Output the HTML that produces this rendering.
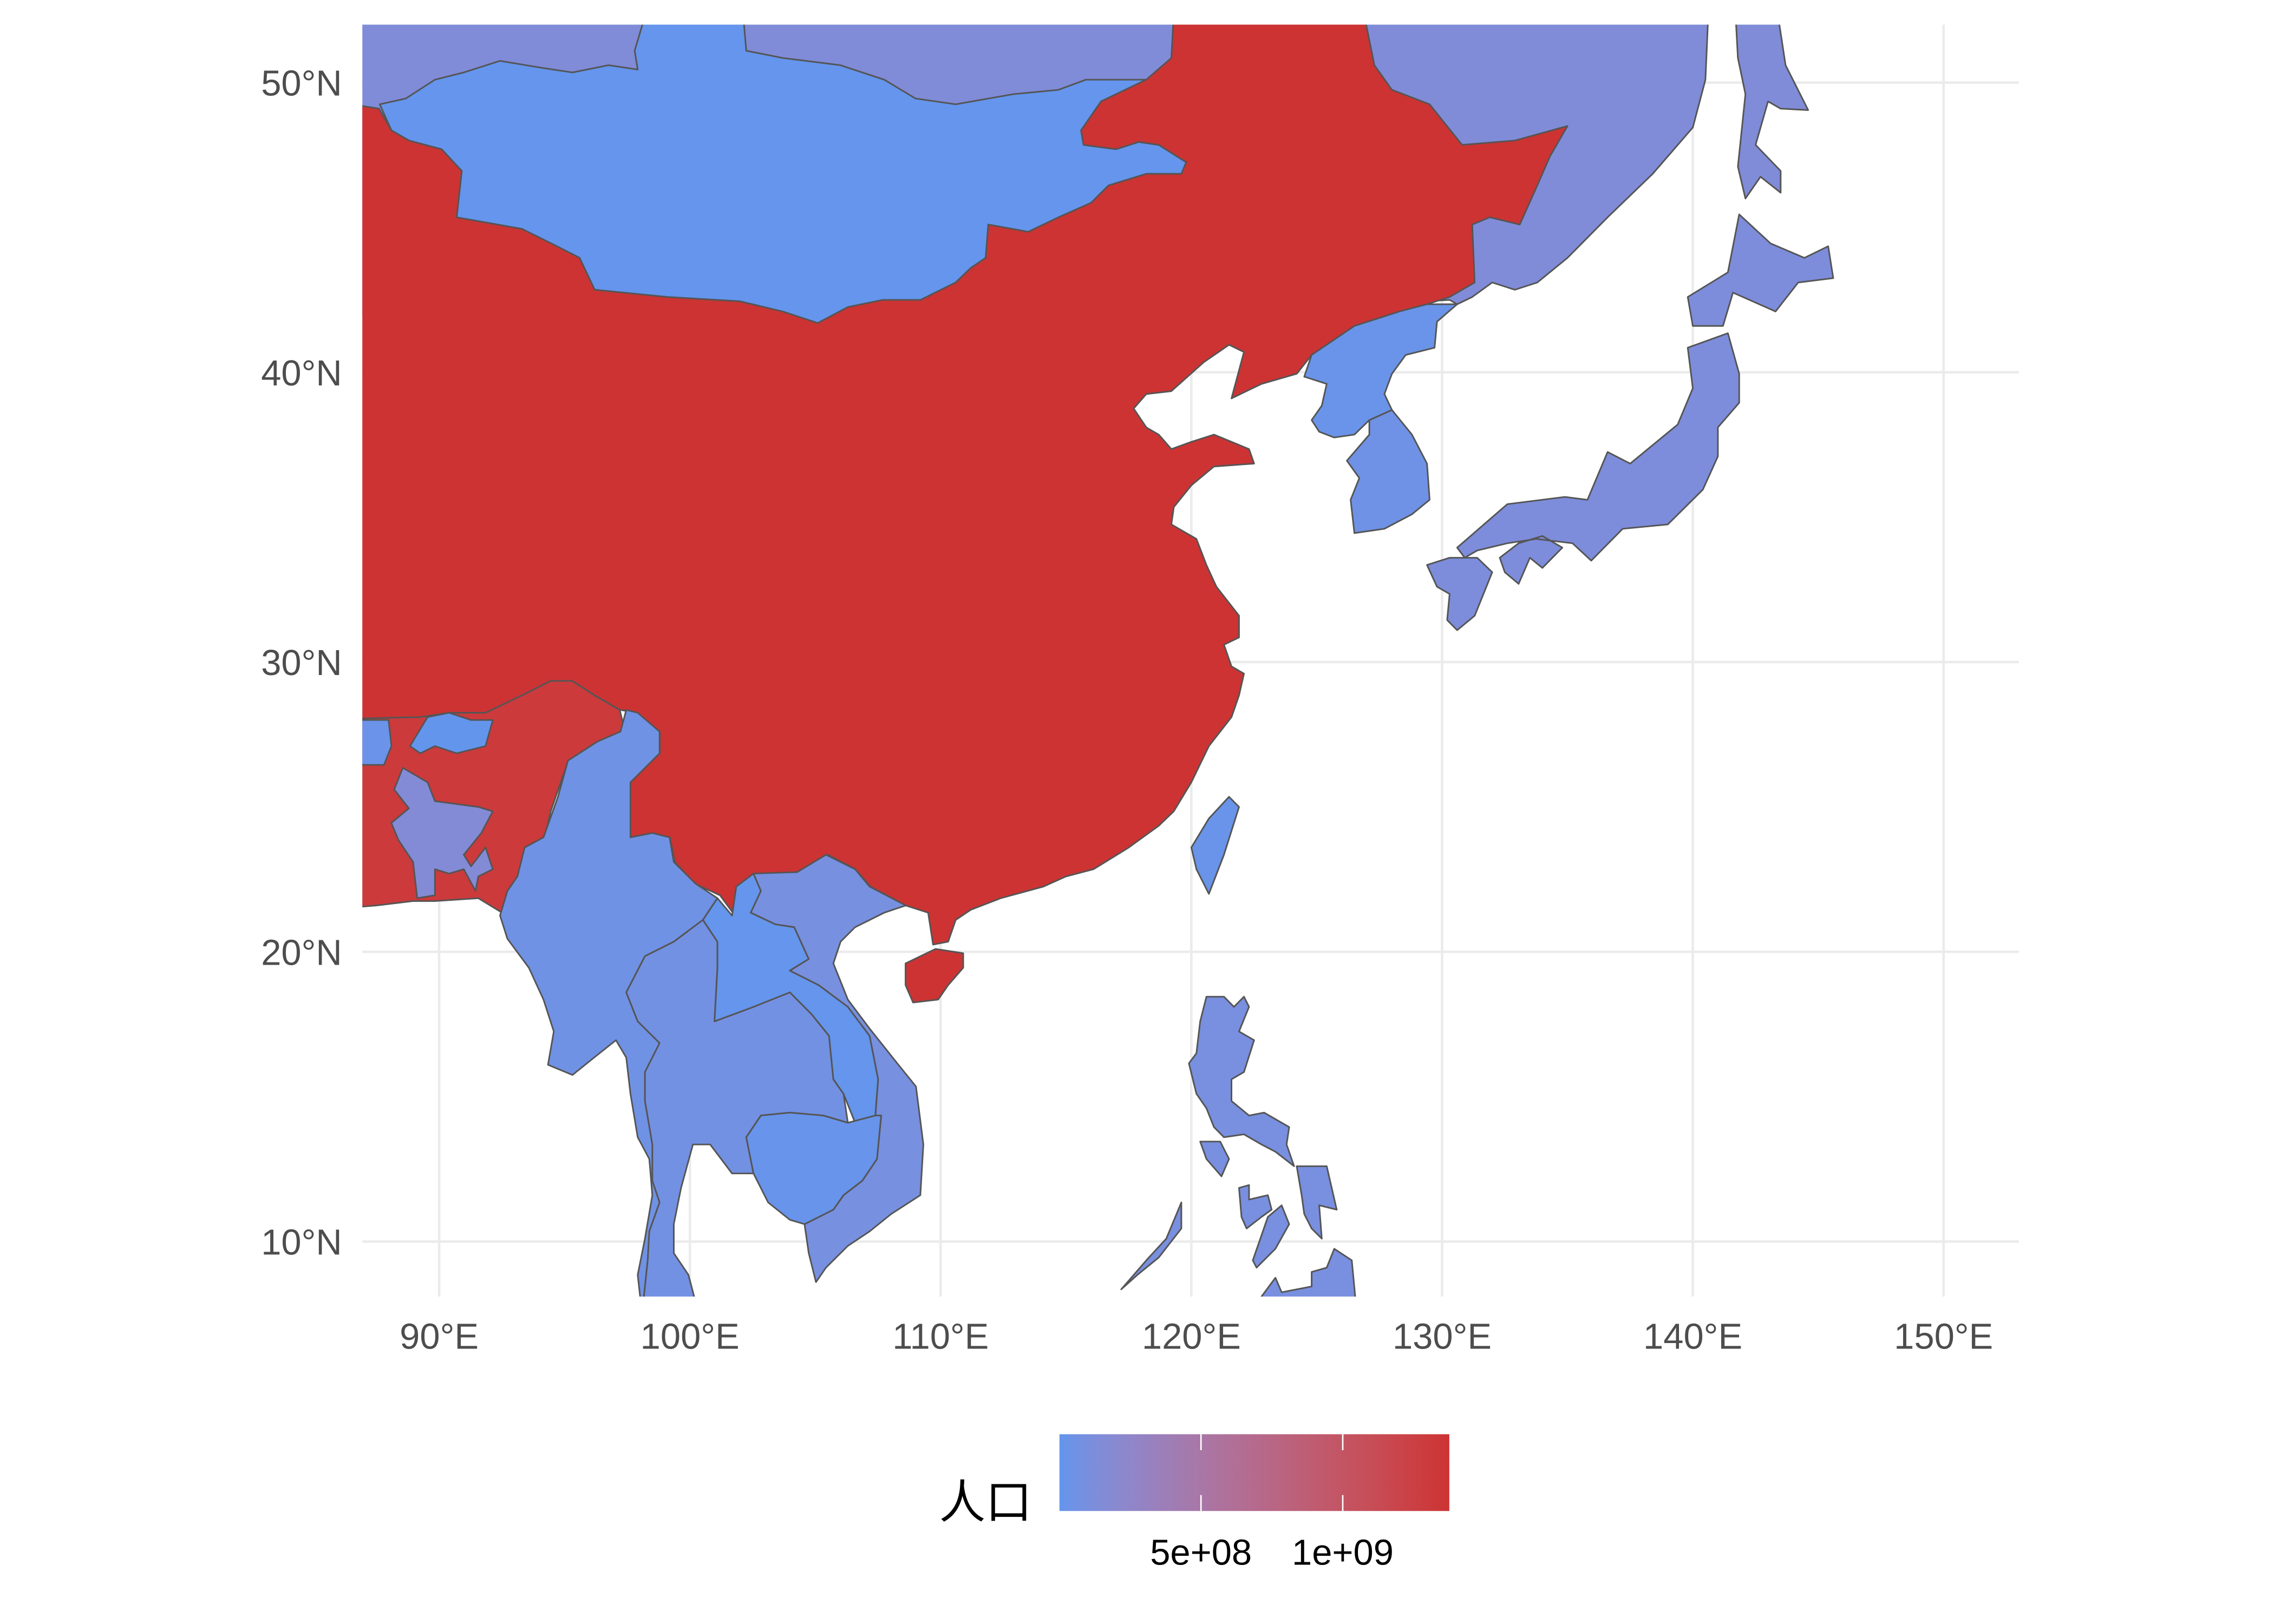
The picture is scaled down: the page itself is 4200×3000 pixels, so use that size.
<!DOCTYPE html>
<html><head><meta charset="utf-8"><title>人口 choropleth</title>
<style>html,body{margin:0;padding:0;background:#fff}svg{display:block}</style></head>
<body>
<svg id="chart" xmlns="http://www.w3.org/2000/svg" width="4200" height="3000" viewBox="0 0 1569 1121" preserveAspectRatio="none">
<defs><clipPath id="panel-clip"><rect x="250" y="17" width="1143" height="878"/></clipPath>
<linearGradient id="legend-grad" x1="0" x2="1" y1="0" y2="0"></linearGradient></defs>
<g id="grid"></g>
<g id="map" clip-path="url(#panel-clip)"></g>
<g id="axes"></g>
<g id="legend"></g>
</svg>
<script>
// ---- data ----
const countries = ["Russia","Mongolia","China","India","Nepal","Bhutan","Bangladesh","Myanmar","Thailand","Laos","Vietnam","Cambodia","North Korea","South Korea","Japan","Taiwan","Philippines"];
const population = [1.44e8,3.0e6,1.376e9,1.31e9,2.9e7,7.7e5,1.61e8,5.3e7,6.8e7,6.8e6,9.3e7,1.56e7,2.5e7,5.0e7,1.27e8,2.3e7,1.01e8];
const lonTicks = [90,100,110,120,130,140,150];
const latTicks = [10,20,30,40,50];
const legendBreaks = [5e8,1e9];
const legendLabels = ["5e+08","1e+09"];
// geometry (lon, lat)
const shapes = {
"Russia":[[[84,54],[140.7,54],[140.5,50.1],[140.0,48.45],[138.4,46.85],[136.6,45.35],[135.0,43.95],[133.8,43.1],[132.9,42.85],[132.0,43.1],[131.2,42.6],[130.6,42.35],[130.3,42.5],[120,42],[84,42]],
 [[141.6,54],[143.1,54],[143.7,50.6],[144.6,49.05],[143.5,49.1],[143.0,49.35],[142.5,47.85],[143.5,46.95],[143.5,46.2],[142.7,46.75],[142.1,46.0],[141.8,47.1],[142.1,49.6],[141.8,50.85]]],
"Mongolia":[[[87.63,49.25],[88.67,49.45],[89.83,50.1],[90.98,50.35],[92.43,50.75],[94.16,50.5],[95.32,50.35],[96.76,50.6],[97.92,50.45],[97.8,51.1],[98.79,54],[101.96,54],[102.25,51.1],[103.7,50.85],[106.0,50.6],[107.75,50.1],[109.0,49.45],[110.6,49.25],[112.9,49.6],[114.7,49.75],[115.8,50.1],[117.6,50.1],[118.2,50.1],[116.4,49.35],[115.6,48.35],[115.7,47.85],[117.0,47.7],[117.9,47.95],[118.7,47.85],[119.8,47.25],[119.6,46.85],[118.2,46.85],[116.7,46.45],[116.0,45.85],[114.7,45.35],[113.5,44.85],[111.9,45.1],[111.8,43.95],[111.2,43.6],[110.6,43.1],[109.2,42.5],[107.7,42.5],[106.3,42.25],[105.1,41.7],[103.7,42.1],[102.0,42.45],[99.1,42.6],[96.2,42.85],[95.6,43.95],[94.7,44.35],[93.3,44.95],[90.7,45.35],[90.9,46.95],[90.1,47.7],[88.8,48.0],[88.1,48.35]]],
"China":[[[84,49.6],[87.6,49.1],[88.1,48.35],[88.8,48.0],[90.1,47.7],[90.9,46.95],[90.7,45.35],[93.3,44.95],[94.7,44.35],[95.6,43.95],[96.2,42.85],[99.1,42.6],[102.0,42.45],[103.7,42.1],[105.1,41.7],[106.3,42.25],[107.7,42.5],[109.2,42.5],[110.6,43.1],[111.2,43.6],[111.8,43.95],[111.9,45.1],[113.5,44.85],[114.7,45.35],[116.0,45.85],[116.7,46.45],[118.2,46.85],[119.6,46.85],[119.8,47.25],[118.7,47.85],[117.9,47.95],[117.0,47.7],[115.7,47.85],[115.6,48.35],[116.4,49.35],[118.2,50.1],[119.2,50.85],[119.4,54],[126.5,54],[127.3,50.6],[128.0,49.75],[129.5,49.25],[130.8,47.85],[132.9,48],[135.0,48.5],[134.3,47.45],[133.8,46.45],[133.1,45.1],[131.9,45.35],[131.2,45.1],[131.3,43.1],[130.3,42.6],[129.4,42.35],[128.3,42.1],[126.5,41.6],[124.8,40.6],[124.2,39.95],[122.8,39.6],[121.6,39.1],[122.1,40.7],[121.5,40.95],[120.5,40.35],[119.2,39.35],[118.2,39.25],[117.7,38.75],[118.2,38.1],[118.7,37.85],[119.2,37.35],[120.0,37.6],[120.9,37.85],[122.3,37.35],[122.5,36.85],[120.9,36.75],[120.0,36.1],[119.3,35.35],[119.2,34.75],[120.2,34.25],[120.6,33.35],[121.0,32.6],[121.9,31.6],[121.9,30.85],[121.3,30.6],[121.6,29.85],[122.1,29.6],[121.9,28.85],[121.6,28.1],[120.7,27.1],[120.0,25.85],[119.3,24.85],[118.7,24.35],[117.5,23.6],[116.1,22.85],[115.0,22.6],[114.1,22.25],[112.4,21.85],[111.2,21.45],[110.6,21.1],[110.3,20.35],[109.7,20.25],[109.5,21.35],[108.6,21.6],[107.2,22.25],[106.6,22.85],[105.5,23.35],[104.3,22.75],[102.6,22.7],[101.9,22.25],[101.8,21.25],[101.2,21.95],[100.2,22.35],[99.4,23.1],[99.2,23.95],[98.5,24.1],[97.6,23.95],[97.6,25.85],[98.8,26.85],[98.8,27.6],[97.9,28.25],[97.2,28.35],[96.2,28.85],[95.3,29.35],[94.5,29.1],[93.3,28.85],[91.9,28.25],[90.4,28.25],[89.3,28.1],[88.1,28.0],[84,28.0]],
 [[108.6,19.6],[109.8,20.1],[110.9,19.95],[110.9,19.45],[110.3,18.85],[109.9,18.35],[108.9,18.25],[108.6,18.85]]],
"India":[[[84,28.0],[89.25,28.1],[90.4,28.25],[91.85,28.25],[93.3,28.85],[94.45,29.35],[95.3,29.35],[96.2,28.85],[97.2,28.35],[97.45,27.45],[96.3,27.25],[95.15,26.6],[94.45,24.85],[93.9,22.85],[92.7,21.25],[91.56,21.85],[89.83,21.75],[88.96,21.75],[87.5,21.6],[84,21.35]]],
"Nepal":[[[84,28.0],[87.98,28.0],[88.1,27.1],[87.8,26.45],[84,26.45]]],
"Bhutan":[[[88.84,27.1],[89.54,28.1],[90.4,28.25],[91.27,28.0],[92.14,28.0],[91.85,27.1],[90.7,26.85],[89.83,27.1],[89.25,26.85]]],
"Bangladesh":[[[88.21,25.6],[88.55,26.35],[89.54,25.85],[89.83,25.2],[91.56,25.0],[92.14,24.85],[91.68,24.1],[90.98,23.35],[91.27,22.95],[91.85,23.6],[92.14,22.85],[91.56,22.6],[91.45,22.1],[90.98,22.85],[90.4,22.7],[89.83,22.85],[89.83,21.95],[89.13,21.85],[88.96,23.1],[88.38,23.85],[88.09,24.45],[88.79,24.95]]],
"Myanmar":[[[92.43,21.25],[92.72,22.1],[93.12,22.6],[93.41,23.6],[94.16,23.95],[94.74,25.35],[95.14,26.6],[96.3,27.25],[97.23,27.6],[97.46,28.35],[97.92,28.25],[98.79,27.6],[98.79,26.85],[97.63,25.85],[97.63,23.95],[98.5,24.1],[99.19,23.95],[99.36,23.1],[100.23,22.35],[101.1,21.85],[100.52,21.1],[99.36,20.35],[98.21,19.85],[97.46,18.6],[97.92,17.6],[98.79,16.85],[98.21,15.85],[98.21,14.85],[98.5,13.35],[98.5,12.1],[98.79,11.35],[98.38,10.35],[98.32,9.35],[98.09,7.5],[97.92,8.85],[98.21,10.1],[98.5,11.6],[98.38,12.85],[97.92,13.6],[97.63,15.1],[97.46,16.35],[97.05,16.95],[96.18,16.35],[95.32,15.75],[94.34,16.1],[94.57,17.25],[94.16,18.35],[93.58,19.45],[92.72,20.45]]],
"Thailand":[[[97.46,18.6],[98.21,19.85],[99.36,20.35],[100.52,21.1],[101.1,20.35],[101.1,19.45],[100.98,17.6],[102.54,18.1],[103.99,18.6],[104.85,17.85],[105.55,17.1],[105.72,15.6],[106.13,15.1],[106.3,14.1],[105.32,14.35],[103.99,14.45],[102.83,14.35],[102.25,13.6],[102.54,12.35],[101.68,12.35],[100.81,13.35],[100.12,13.35],[99.65,11.85],[99.36,10.6],[99.36,9.6],[99.94,8.85],[100.35,7.5],[98.09,7.5],[98.32,9.35],[98.38,10.35],[98.79,11.35],[98.5,12.1],[98.5,13.35],[98.21,14.85],[98.21,15.85],[98.79,16.85],[97.92,17.6]]],
"Laos":[[[101.1,21.85],[101.68,21.25],[101.85,22.25],[102.54,22.7],[102.83,22.1],[102.43,21.35],[103.41,20.95],[104.16,20.85],[104.74,19.75],[103.99,19.35],[105.14,18.85],[106.3,18.1],[107.17,17.1],[107.51,15.6],[107.4,14.35],[106.59,14.1],[106.13,15.1],[105.72,15.6],[105.55,17.1],[104.85,17.85],[103.99,18.6],[102.54,18.1],[100.98,17.6],[101.1,19.45],[101.1,20.35],[100.52,21.1]]],
"Vietnam":[[[102.54,22.7],[104.28,22.75],[105.43,23.35],[106.59,22.85],[107.17,22.25],[108.61,21.6],[107.75,21.35],[106.59,20.85],[106.01,20.35],[105.72,19.6],[106.3,18.35],[107.17,17.35],[108.32,16.1],[109.02,15.35],[109.31,13.35],[109.19,11.6],[108.03,10.95],[107.17,10.35],[106.3,9.85],[105.43,9.1],[105.03,8.6],[104.74,9.6],[104.57,10.6],[105.72,11.1],[106.13,11.6],[106.88,12.1],[107.46,12.85],[107.63,14.35],[107.4,14.35],[107.51,15.6],[107.17,17.1],[106.3,18.1],[105.14,18.85],[103.99,19.35],[104.74,19.75],[104.16,20.85],[103.41,20.95],[102.43,21.35],[102.83,22.1]]],
"Cambodia":[[[102.25,13.6],[102.83,14.35],[103.99,14.45],[105.32,14.35],[106.3,14.1],[107.4,14.35],[107.63,14.35],[107.46,12.85],[106.88,12.1],[106.13,11.6],[105.72,11.1],[104.57,10.6],[103.99,10.75],[103.12,11.35],[102.54,12.35]]],
"North Korea":[[[130.6,42.35],[129.8,41.75],[129.7,40.85],[128.55,40.6],[128.0,39.95],[127.7,39.25],[128.0,38.7],[127.1,38.35],[126.5,37.85],[125.7,37.75],[125.1,37.95],[124.8,38.35],[125.2,38.85],[125.4,39.6],[124.5,39.85],[124.8,40.6],[126.5,41.6],[128.3,42.1],[129.4,42.35]]],
"South Korea":[[[128.0,38.7],[128.8,37.85],[129.4,36.85],[129.5,35.6],[128.8,35.1],[127.7,34.6],[126.5,34.45],[126.35,35.6],[126.7,36.35],[126.2,36.95],[127.1,37.85],[127.1,38.35]]],
"Japan":[[[139.8,40.85],[141.4,41.35],[141.85,39.95],[141.85,38.95],[141.0,38.1],[141.0,37.1],[140.4,35.95],[139.0,34.75],[137.2,34.6],[135.95,33.5],[135.2,34.1],[133.75,34.25],[132.6,34.1],[131.4,33.85],[130.9,33.6],[130.6,33.95],[132.6,35.45],[134.9,35.7],[135.8,35.6],[136.6,37.25],[137.5,36.85],[139.4,38.2],[140.0,39.45]],
 [[132.3,33.6],[133.05,34.1],[134.0,34.35],[134.8,33.95],[134.0,33.25],[133.5,33.6],[133.05,32.7],[132.5,33.1]],
 [[129.4,33.35],[130.3,33.6],[131.4,33.6],[132.0,33.1],[131.3,31.6],[130.6,31.1],[130.2,31.45],[130.3,32.35],[129.8,32.6]],
 [[141.85,45.45],[143.1,44.45],[144.45,43.95],[145.4,44.35],[145.6,43.25],[144.2,43.1],[143.3,42.1],[141.6,42.75],[141.2,41.6],[140.0,41.6],[139.8,42.6],[141.4,43.45]]],
"Taiwan":[[[121.5,25.35],[121.9,25.0],[121.3,23.35],[120.7,22.0],[120.2,22.85],[120.0,23.6],[120.7,24.6]]],
"Philippines":[[[120.6,18.45],[121.3,18.45],[121.7,18.1],[122.1,18.45],[122.3,18.1],[121.9,17.25],[122.5,16.95],[122.1,15.85],[121.6,15.6],[121.6,14.85],[122.3,14.35],[122.9,14.45],[123.9,13.95],[123.8,13.35],[124.1,12.6],[123.35,13.1],[122.8,13.35],[122.1,13.7],[121.3,13.6],[120.9,13.95],[120.6,14.6],[120.2,15.1],[119.9,16.15],[120.2,16.5],[120.35,17.6]],
 [[120.35,13.45],[121.15,13.45],[121.5,12.85],[121.2,12.25],[120.6,12.85]],
 [[121.9,11.85],[122.3,11.95],[122.3,11.45],[123.05,11.6],[123.2,11.1],[122.8,10.85],[122.2,10.45],[122.0,10.85]],
 [[123.05,10.85],[123.6,11.25],[123.9,10.6],[123.35,9.75],[122.6,9.1],[122.45,9.35]],
 [[124.2,12.6],[125.4,12.6],[125.8,11.1],[125.1,11.25],[125.2,10.1],[124.8,10.45],[124.5,10.95],[124.4,11.6]],
 [[122.8,8.1],[123.35,8.75],[123.6,8.25],[124.8,8.45],[124.8,8.95],[125.4,9.1],[125.7,9.75],[126.4,9.35],[126.6,7.5],[122.8,7.5]],
 [[117.2,8.35],[118.2,9.35],[119.0,10.1],[119.6,11.35],[119.6,10.45],[118.7,9.45],[117.85,8.85]]]
};
// ---- scales ----
const NS="http://www.w3.org/2000/svg";
const xScale = lon => 303 + (lon-90)*17.3;
const yScale = lat => 57 + (50-lat)*20;
const lo = Math.min(...population), hi = Math.max(...population);
function toLab(c){let [r,g,b]=c.map(v=>{v/=255;return v>0.04045?Math.pow((v+0.055)/1.055,2.4):v/12.92});
 let X=(r*0.4124+g*0.3576+b*0.1805)/0.95047,Y=r*0.2126+g*0.7152+b*0.0722,Z=(r*0.0193+g*0.1192+b*0.9505)/1.08883;
 const f=t=>t>0.008856?Math.cbrt(t):7.787*t+16/116;return [116*f(Y)-16,500*(f(X)-f(Y)),200*(f(Y)-f(Z))];}
function fromLab(L,a,b){let fy=(L+16)/116,fx=fy+a/500,fz=fy-b/200;const fi=t=>t*t*t>0.008856?t*t*t:(t-16/116)/7.787;
 let X=fi(fx)*0.95047,Y=fi(fy),Z=fi(fz)*1.08883;
 let r=X*3.2406+Y*-1.5372+Z*-0.4986,g=X*-0.9689+Y*1.8758+Z*0.0415,bb=X*0.0557+Y*-0.2040+Z*1.0570;
 return [r,g,bb].map(v=>{v=v>0.0031308?1.055*Math.pow(v,1/2.4)-0.055:12.92*v;return Math.max(0,Math.min(255,Math.round(v*255)));});}
const LOW=toLab([100,149,237]), HIGH=toLab([205,51,51]);
function color(v){const t=Math.max(0,Math.min(1,(v-lo)/(hi-lo)));const c=fromLab(...LOW.map((l,i)=>l+(HIGH[i]-l)*t));return `rgb(${c.join(',')})`;}
// grid
const grid=document.getElementById('grid');
lonTicks.forEach(l=>{const e=document.createElementNS(NS,'line');


e.setAttribute('x1',xScale(l));e.setAttribute('x2',xScale(l));e.setAttribute('y1',17);e.setAttribute('y2',895);e.setAttribute('stroke','#ebebeb');e.setAttribute('stroke-width',1.7);grid.appendChild(e);});
latTicks.forEach(l=>{const e=document.createElementNS(NS,'line');


e.setAttribute('y1',yScale(l));e.setAttribute('y2',yScale(l));e.setAttribute('x1',250);e.setAttribute('x2',1393);e.setAttribute('stroke','#ebebeb');e.setAttribute('stroke-width',1.7);grid.appendChild(e);});
// map
const map=document.getElementById('map');
countries.forEach((name,i)=>{const d=(shapes[name]||[]).map(r=>'M'+r.map(p=>xScale(p[0]).toFixed(1)+','+yScale(p[1]).toFixed(1)).join('L')+'Z').join('');
const e=document.createElementNS(NS,'path');


e.setAttribute('d',d);e.setAttribute('fill',color(population[i]));e.setAttribute('stroke','#555');e.setAttribute('stroke-width',1.1);e.setAttribute('stroke-linejoin','round');map.appendChild(e);});
// axis labels
const axes=document.getElementById('axes');
lonTicks.forEach(l=>{const t=document.createElementNS(NS,'text');


t.setAttribute('x',xScale(l));t.setAttribute('y',931);t.setAttribute('text-anchor','middle');t.setAttribute('font-size',25);t.setAttribute('fill','#4d4d4d');t.setAttribute('font-family','Liberation Sans, sans-serif');t.textContent=l+'°E';axes.appendChild(t);});
latTicks.forEach(l=>{const t=document.createElementNS(NS,'text');


t.setAttribute('x',236);t.setAttribute('y',yScale(l)+9);t.setAttribute('text-anchor','end');t.setAttribute('font-size',25);t.setAttribute('fill','#4d4d4d');t.setAttribute('font-family','Liberation Sans, sans-serif');t.textContent=l+'°N';axes.appendChild(t);});
// legend
const lg=document.getElementById('legend');const grad=document.getElementById('legend-grad');
for(let k=0;k<=20;k++){const s=document.createElementNS(NS,'stop');s.setAttribute('offset',k/20);s.setAttribute('stop-color',color(lo+(hi-lo)*k/20));grad.appendChild(s);}
const L0=731,L1=1000,LT=990,LB=1043;const lx=v=>L0+(v-lo)/(hi-lo)*(L1-L0);
const bar=document.createElementNS(NS,'rect');


bar.setAttribute('x',L0);bar.setAttribute('y',LT);bar.setAttribute('width',L1-L0);bar.setAttribute('height',LB-LT);bar.setAttribute('fill','url(#legend-grad)');lg.appendChild(bar);
legendBreaks.forEach((b,i)=>{[[LT,LT+11],[LB-11,LB]].forEach(([a,c])=>{const e=document.createElementNS(NS,'line');


e.setAttribute('x1',lx(b));e.setAttribute('x2',lx(b));e.setAttribute('y1',a);e.setAttribute('y2',c);e.setAttribute('stroke','#fff');e.setAttribute('stroke-width',1);lg.appendChild(e);});
const t=document.createElementNS(NS,'text');


t.setAttribute('x',lx(b));t.setAttribute('y',1080);t.setAttribute('text-anchor','middle');t.setAttribute('font-size',25);t.setAttribute('fill','#000');t.setAttribute('font-family','Liberation Sans, sans-serif');t.textContent=legendLabels[i];lg.appendChild(t);});
const title=document.createElementNS(NS,'text');


title.setAttribute('x',712);title.setAttribute('y',1048);title.setAttribute('text-anchor','end');title.setAttribute('font-size',32);title.setAttribute('fill','#000');title.setAttribute('font-family','Liberation Sans, Noto Sans CJK SC, sans-serif');title.textContent='人口';lg.appendChild(title);
</script>
</body></html>
